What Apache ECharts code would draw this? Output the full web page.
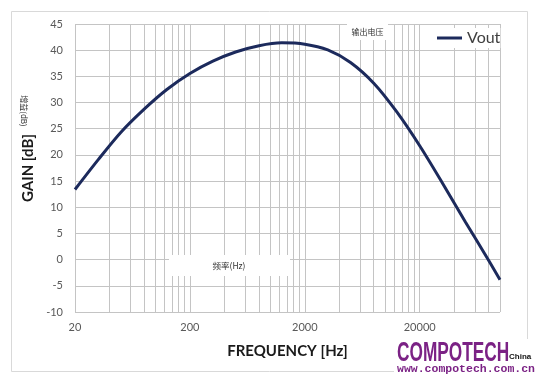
<!DOCTYPE html>
<html><head><meta charset="utf-8">
<script src="https://cdn.jsdelivr.net/npm/echarts@6/dist/echarts.min.js"></script>
<style>html,body{margin:0;padding:0;background:#fff}#c{width:537px;height:379px}</style>
</head><body><div id="c"></div>
<script>
const seriesName = 'Vout';
const freqHz = [20, 32, 50, 80, 126, 200, 317, 500, 800, 1260, 2000, 3170, 5000, 8000, 12600, 20000, 31700, 50000, 80000, 100000];
const gainDb = [13.4, 19.15, 24.3, 28.75, 32.5, 35.55, 37.9, 39.65, 40.85, 41.4, 41.15, 40.05, 37.65, 33.65, 28.25, 21.75, 14.55, 7.2, -0.2, -3.85];
const xTickLabels = ['20', '200', '2000', '20000'];
const xMinHz = 20, xMaxHz = 100000;
const decadeStarts = [20, 200, 2000, 20000];
const minorMultipliers = [2, 3, 4, 5, 6, 7, 8, 9];
const yMin = -10, yMax = 45, yStep = 5;

const toX = f => Math.log10(f / xMinHz);
const minorFreqs = [];
decadeStarts.forEach(d => minorMultipliers.forEach(m => { if (d * m < xMaxHz) minorFreqs.push(d * m); }));

const gridColor = '#c4c4c4';
const chart = echarts.init(document.getElementById('c'), null, {renderer: 'canvas'});
chart.setOption({
  animation: false,
  backgroundColor: '#fff',
  grid: {left: 75, right: 37, top: 24, bottom: 67},
  legend: {
    data: [{name: seriesName, icon: 'rect'}],
    left: 435, top: 28, itemWidth: 25, itemHeight: 3,
    backgroundColor: '#fff', padding: [2, 0, 2, 2],
    textStyle: {fontSize: 16, color: '#404040', fontFamily: 'Lato'}
  },
  xAxis: {
    type: 'value', min: 0, max: toX(xMaxHz), interval: 1,
    axisLine: {show: false}, axisTick: {show: false},
    splitLine: {show: true, lineStyle: {color: gridColor, width: 1}},
    axisLabel: {showMaxLabel: false, margin: 10, fontSize: 11, color: '#595959', fontFamily: 'Lato',
      formatter: (v, i) => xTickLabels[i] || ''},
    name: 'FREQUENCY [Hz]', nameLocation: 'middle', nameGap: 32,
    nameTextStyle: {fontWeight: 'bold', fontSize: 15, color: '#1a1a1a', fontFamily: 'Lato'}
  },
  yAxis: {
    type: 'value', min: yMin, max: yMax, interval: yStep,
    axisLine: {show: false}, axisTick: {show: false},
    splitLine: {show: true, lineStyle: {color: gridColor, width: 1}},
    axisLabel: {margin: 12, fontSize: 11, color: '#595959', fontFamily: 'Lato'},
    name: 'GAIN [dB]', nameLocation: 'middle', nameGap: 35,
    nameTextStyle: {fontWeight: 'bold', fontSize: 15, color: '#1a1a1a', fontFamily: 'Lato'}
  },
  series: [
    {
      name: 'minorGrid', type: 'line', data: [], silent: true, z: 1,
      markLine: {
        silent: true, z: 1, symbol: ['none', 'none'], label: {show: false},
        emphasis: {disabled: true},
        lineStyle: {color: gridColor, width: 1, type: 'solid'},
        data: minorFreqs.map(f => ({xAxis: toX(f)}))
      }
    },
    {
      name: seriesName, type: 'line', z: 10, showSymbol: false, smooth: 0.3,
      lineStyle: {color: '#1c2a5c', width: 3}, itemStyle: {color: '#1c2a5c'},
      data: freqHz.map((f, i) => [toX(f), gainDb[i]])
    }
  ],
  graphic: [
    {type: 'rect', silent: true, z: 0, shape: {x: 11.5, y: 11.5, width: 516, height: 360},
      style: {fill: 'none', stroke: '#d9d9d9', lineWidth: 1}},
    {type: 'rect', silent: true, z: 100, shape: {x: 347, y: 23, width: 41, height: 17}, style: {fill: '#fff'}},
    {type: 'text', silent: true, z: 101, x: 367.5, y: 31.5,
      style: {text: '输出电压', fontSize: 8, fill: '#333', align: 'center', verticalAlign: 'middle', fontFamily: 'Noto Sans CJK SC'}},
    {type: 'rect', silent: true, z: 100, shape: {x: 169, y: 255, width: 121, height: 21}, style: {fill: '#fff'}},
    {type: 'text', silent: true, z: 101, x: 229, y: 266,
      style: {text: '频率(Hz)', fontSize: 8.5, fill: '#333', align: 'center', verticalAlign: 'middle', fontFamily: 'Noto Sans CJK SC'}},
    {type: 'text', silent: true, z: 101, x: 24, y: 111, rotation: -Math.PI / 2,
      style: {text: '增益(dB)', fontSize: 8, fill: '#333', align: 'center', verticalAlign: 'middle', fontFamily: 'Noto Sans CJK SC'}},
    {type: 'rect', silent: true, z: 100, shape: {x: 394, y: 339, width: 143, height: 40}, style: {fill: '#fff'}},
    {type: 'text', silent: true, z: 101, x: 397, y: 353.5, scaleX: 0.64,
      style: {text: 'COMPOTECH', font: 'bold 27px "Liberation Sans"', fill: '#7b2285', verticalAlign: 'middle'}},
    {type: 'text', silent: true, z: 101, x: 509, y: 357,
      style: {text: 'China', font: 'bold 8px "Liberation Sans"', fill: '#111', verticalAlign: 'middle'}},
    {type: 'text', silent: true, z: 101, x: 397, y: 369.5,
      style: {text: 'www.compotech.com.cn', font: 'bold 11.5px "Liberation Mono"', fill: '#7b2285', verticalAlign: 'middle'}}
  ]
});
</script>
</body></html>
